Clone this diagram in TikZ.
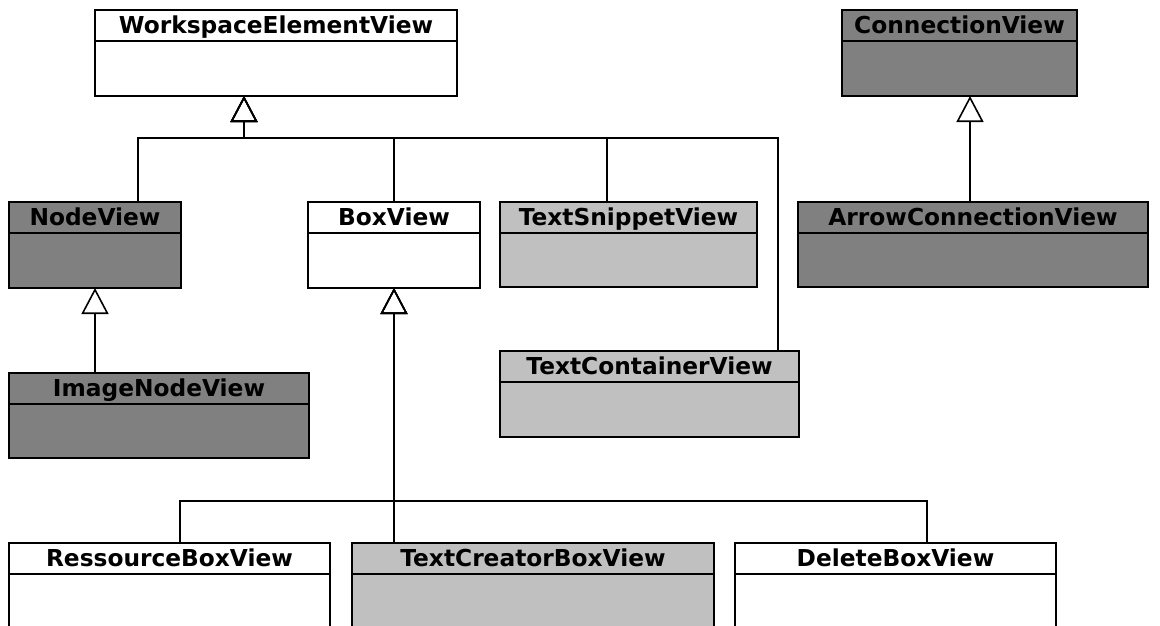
\documentclass[tikz,border=0pt]{standalone}
\usepackage{fontspec}
\setmainfont{DejaVu Sans}
\usetikzlibrary{arrows.meta}
\definecolor{darkcls}{HTML}{808080}
\definecolor{lightcls}{HTML}{C0C0C0}
\tikzset{
  clsbox/.style={draw=black, line width=2pt, inner sep=0pt, outer sep=0pt},
  clsline/.style={draw=black, line width=2pt},
  clstitle/.style={inner sep=0pt, font=\fontsize{23.3}{23.3}\selectfont\bfseries},
  inh/.style={draw=black, line width=1.6pt, -{Triangle[open, length=26pt, width=27pt, line width=1.6pt]}},
}
\newcommand\umlcls[7]{%
  \node[clsbox, fill=#6, minimum width=#4pt, minimum height=#5pt, anchor=north west] (#1) at (#2,#3) {};
  \draw[clsline] ([yshift=-30.5pt]#1.north west) -- ([yshift=-30.5pt]#1.north east);
  \node[clstitle, anchor=base] (#1-t) at ([yshift=-23.5pt]#1.north) {#7};
}
\begin{document}
\begin{tikzpicture}[x=1pt, y=-1pt]
\useasboundingbox (0,0) rectangle (1160,625);
\clip (0,0) rectangle (1160,625);
\fill[white] (0,0) rectangle (1160,625);

\umlcls{wev}{95}{10}{362}{86}{white}{WorkspaceElementView}
\umlcls{cv}{842}{10}{235}{86}{darkcls}{ConnectionView}
\umlcls{nv}{9}{202}{172}{86}{darkcls}{NodeView}
\umlcls{bv}{308}{202}{172}{86}{white}{BoxView}
\umlcls{tsv}{500}{202}{257}{85}{lightcls}{TextSnippetView}
\umlcls{acv}{798}{202}{350}{85}{darkcls}{ArrowConnectionView}
\umlcls{inv}{9}{373}{300}{85}{darkcls}{ImageNodeView}
\umlcls{tcv}{500}{351}{299}{86}{lightcls}{TextContainerView}
\umlcls{rbv}{9}{543}{321}{86}{white}{RessourceBoxView}
\umlcls{tcbv}{352}{543}{362}{86}{lightcls}{TextCreatorBoxView}
\umlcls{dbv}{735}{543}{321}{86}{white}{DeleteBoxView}

% junctions
\coordinate (j1) at (244,138);
\coordinate (j2) at (394,501);

% WorkspaceElementView hierarchy
\draw[inh] (nv.north -| 138,0) |- (j1) -- (wev.south -| j1);
\draw[inh] (bv.north -| 394,0) |- (j1) -- (wev.south -| j1);
\draw[inh] (tsv.north -| 607,0) |- (j1) -- (wev.south -| j1);
\draw[inh] (tcv.north -| 778,0) |- (j1) -- (wev.south -| j1);

% ConnectionView
\draw[inh] (acv.north -| 970,0) -- (cv.south -| 970,0);

% NodeView
\draw[inh] (inv.north -| nv.south) -- (nv.south);

% BoxView hierarchy
\draw[inh] (rbv.north -| 180,0) |- (j2) -- (bv.south -| j2);
\draw[inh] (tcbv.north -| j2) -- (bv.south -| j2);
\draw[inh] (dbv.north -| 927,0) |- (j2) -- (bv.south -| j2);
\end{tikzpicture}
\end{document}
